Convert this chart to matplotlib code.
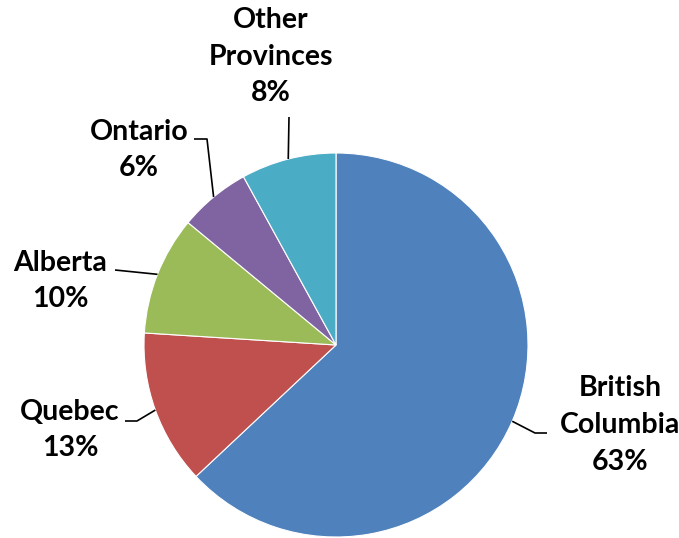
import numpy as np
import matplotlib
matplotlib.use('Agg')
from matplotlib import pyplot as plt

# data, clockwise from 12 o'clock
provinces = ['British\nColumbia', 'Quebec', 'Alberta', 'Ontario', 'Other\nProvinces']
shares = [63, 13, 10, 6, 8]
colors = ['#4F81BD', '#C0504D', '#9BBB59', '#8064A2', '#4BACC6']

# label placement (pixel offsets of text centre and elbow, relative to pie centre)
label_pos = [(284, -80), (-266, -85), (-276, 64), (-197, 195), (-65, 288)]
elbows = [[(199, -88), (211, -88)], [(-199, -76), (-211, -76)], [(-221, 75)],
          [(-129, 206), (-142, 206)], [(-47, 228)]]

W, H = 679, 538
cx, cy, R = 336, 345, 192

fig = plt.figure(figsize=(W / 100, H / 100), dpi=100)
ax = fig.add_axes([0, 0, 1, 1])

wedges, _ = ax.pie(shares, colors=colors, startangle=90, counterclock=False,
                   radius=1, wedgeprops=dict(edgecolor='white', linewidth=0.8))

ax.set_xlim(-cx / R, (W - cx) / R)
ax.set_ylim((cy - H) / R, cy / R)
ax.set_aspect('equal')
ax.axis('off')

total = sum(shares)
cum = 0
for i, (name, val) in enumerate(zip(provinces, shares)):
    mid = 90 - 360 * (cum + val / 2) / total
    cum += val
    a = np.deg2rad(mid)
    px, py = np.cos(a), np.sin(a)
    pts = [(px, py)] + [(x / R, y / R) for x, y in elbows[i]]
    xs, ys = zip(*pts)
    ax.plot(xs, ys, color='black', lw=1.2, solid_capstyle='butt')
    tx, ty = label_pos[i]
    ax.text(tx / R, ty / R, f'{name}\n{val}%', ha='center', va='center',
            fontsize=20.5, fontweight='bold', family='Lato', linespacing=1.5)

fig.savefig('out.png', dpi=100)
